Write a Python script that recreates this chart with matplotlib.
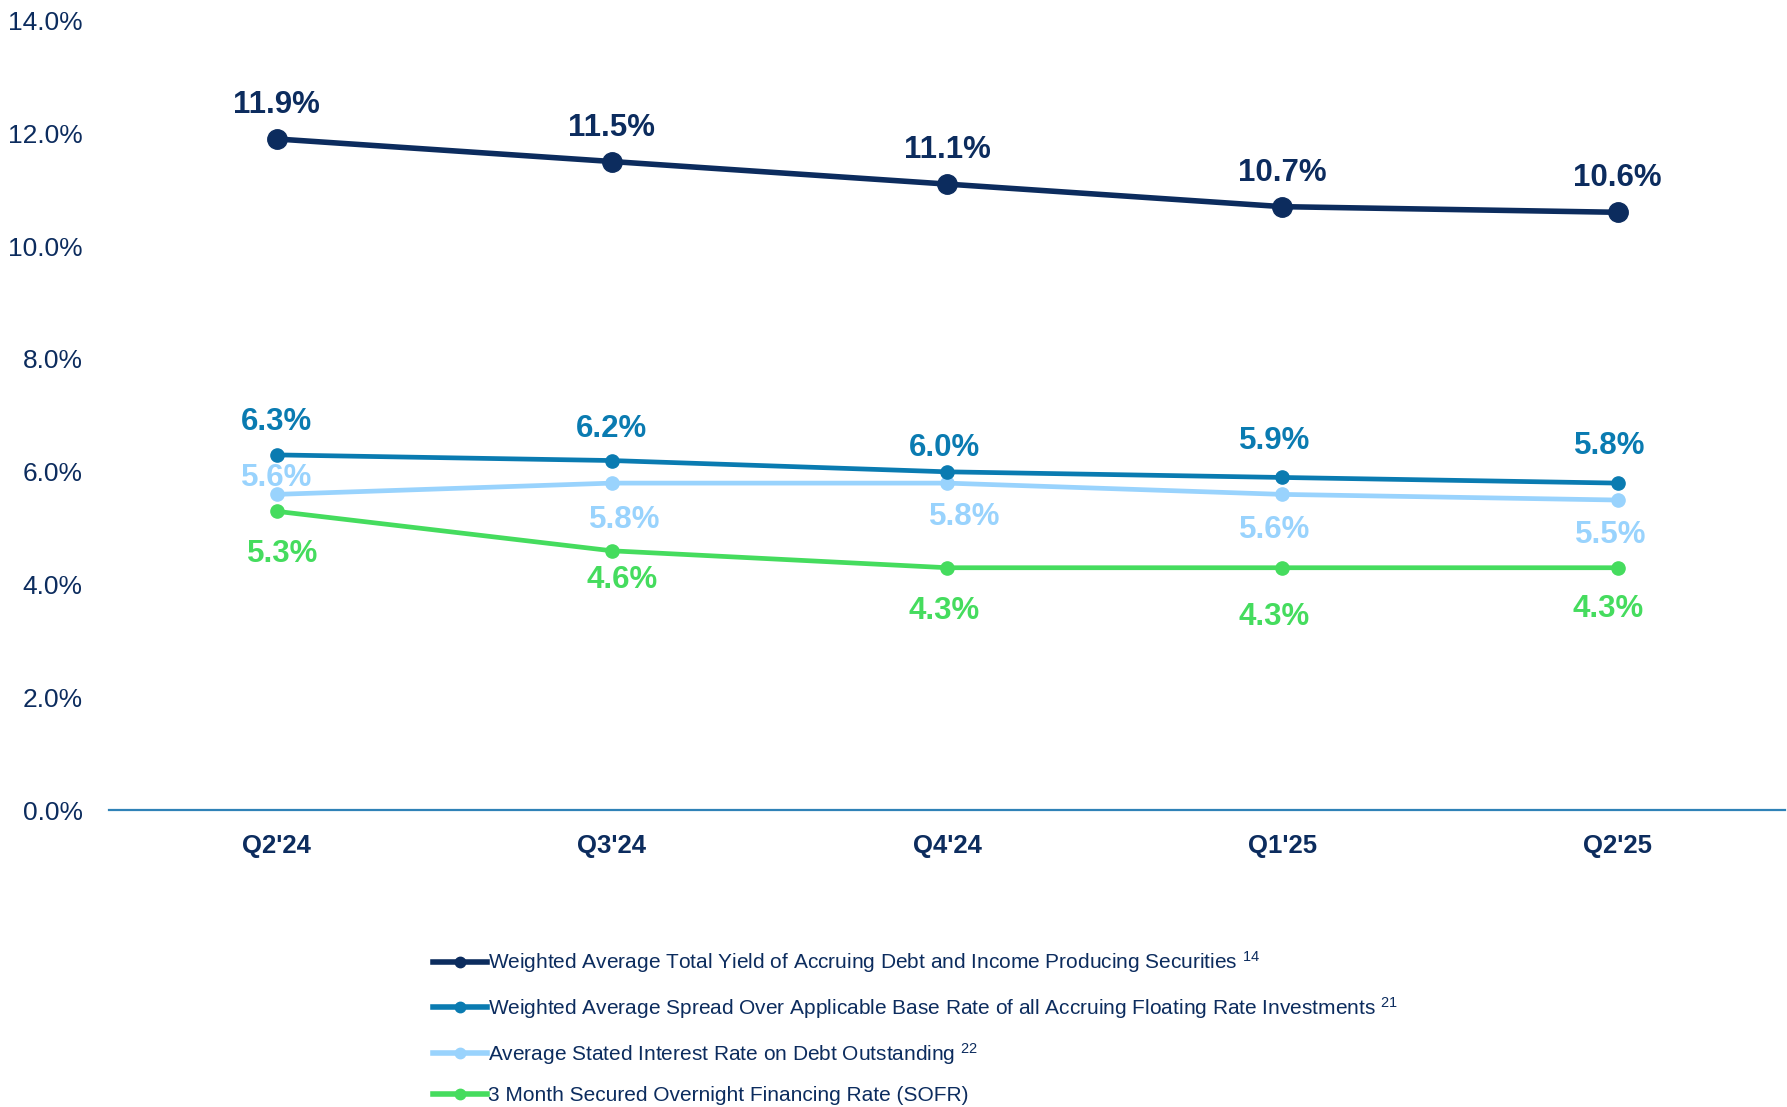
import matplotlib.pyplot as plt
from matplotlib.ticker import FuncFormatter

plt.rcParams['font.family'] = ['Liberation Sans', 'DejaVu Sans']
plt.rcParams['mathtext.fontset'] = 'custom'
plt.rcParams['mathtext.rm'] = 'Liberation Sans'
plt.rcParams['mathtext.it'] = 'Liberation Sans'

# Data
quarters = ["Q2'24", "Q3'24", "Q4'24", "Q1'25", "Q2'25"]
total_yield = [11.9, 11.5, 11.1, 10.7, 10.6]
spread = [6.3, 6.2, 6.0, 5.9, 5.8]
debt_rate = [5.6, 5.8, 5.8, 5.6, 5.5]
sofr = [5.3, 4.6, 4.3, 4.3, 4.3]

names = [
    "Weighted Average Total Yield of Accruing Debt and Income Producing Securities $^{14}$",
    "Weighted Average Spread Over Applicable Base Rate of all Accruing Floating Rate Investments $^{21}$",
    "Average Stated Interest Rate on Debt Outstanding $^{22}$",
    "3 Month Secured Overnight Financing Rate (SOFR)",
]

navy = '#0C2C5E'
colors = [navy, '#0A7BB1', '#99D3FD', '#45DC5E']
series = [total_yield, spread, debt_rate, sofr]

# label offsets in pixels (dx, dy) relative to each point
offsets = [
    [(0, 34), (0, 34), (0, 34), (0, 34), (0, 34)],
    [(0, 33), (0, 32), (-3, 24), (-8, 36), (-8, 37)],
    [(0, 16), (13, -37), (18, -34), (-8, -36), (-7, -35)],
    [(6, -43), (10, -29), (-3, -43), (-8, -49), (-9, -41)],
]

fig = plt.figure(figsize=(17.87, 11.07), dpi=100)
ax = fig.add_axes([0.061, 0.268, 0.938, 0.7135])

x = list(range(len(quarters)))
for i, (vals, c, name) in enumerate(zip(series, colors, names)):
    lw = 4.0 if i == 0 else 3.4
    ms = 14 if i == 0 else 9.5
    ax.plot(x, vals, color=c, lw=lw, marker='o', ms=ms, label=name, zorder=3 + (3 - i))
    for xi, v, (dx, dy) in zip(x, vals, offsets[i]):
        ax.annotate(f"{v:.1f}%", (xi, v), xytext=(dx, dy), textcoords='offset pixels',
                    ha='center', va='center', fontsize=22.5, fontweight='bold', color=c,
                    zorder=10)

ax.set_xlim(-0.5, 4.5)
ax.set_ylim(0, 14)
ax.set_yticks([0, 2, 4, 6, 8, 10, 12, 14])
ax.yaxis.set_major_formatter(FuncFormatter(lambda v, p: f"{v:.1f}%"))
ax.set_xticks(x)
ax.set_xticklabels(quarters, fontsize=18.5, fontweight='bold', color=navy)
ax.tick_params(axis='y', labelsize=19, labelcolor=navy, length=0, pad=19)
ax.tick_params(axis='x', length=0, pad=17)

for s in ['top', 'right', 'left']:
    ax.spines[s].set_visible(False)
ax.spines['bottom'].set_color('#2F82B7')
ax.spines['bottom'].set_linewidth(1.6)

handles, labels = ax.get_legend_handles_labels()
leg = fig.legend(handles, labels, loc='upper left', bbox_to_anchor=(0.2375, 0.150),
                 frameon=False, fontsize=15, labelcolor=navy, handlelength=2.6,
                 handletextpad=0.05, labelspacing=0.95, borderaxespad=0)
for line in leg.get_lines():
    line.set_linewidth(4)
    line.set_markersize(7.5)

fig.savefig('out.png', dpi=100)
